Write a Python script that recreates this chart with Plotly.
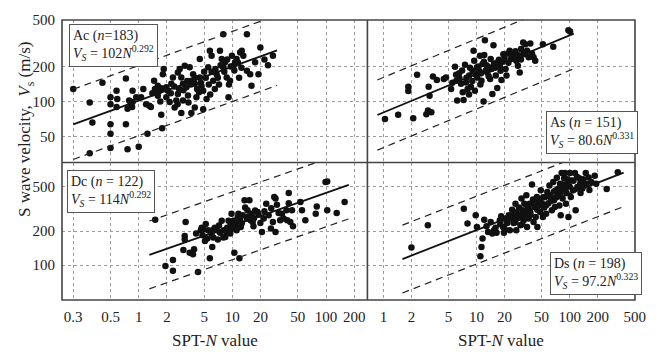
import numpy as np
import plotly.graph_objects as go

# ---- regression groups -------------------------------------------------
group_names = ["Ac", "As", "Dc", "Ds"]
group_counts = [183, 151, 122, 198]
coef_a = [102, 80.6, 114, 97.2]
coef_b = [0.292, 0.331, 0.292, 0.323]
fit_n_min = [0.2, 0.86, 1.3, 1.6]
fit_n_max = [30, 111, 175, 380]
band_factor = 2.0

# ---- measured (SPT-N, Vs) pairs -----------------------------------------
ac_n = [0.2, 0.30, 0.32, 0.30, 0.41, 0.5, 0.5, 0.5, 0.5, 0.5, 0.58, 0.59, 0.58, 0.73, 0.73,
        0.76, 0.79, 0.82, 0.76, 0.86, 0.85, 0.86, 0.94, 1.0, 1.06, 1.12, 1.24, 1.3, 1.35, 1.46,
        1.49, 1.54, 1.6, 1.67, 1.74, 1.74, 1.78, 1.81, 1.85, 1.97, 1.97, 2.05, 2.14, 2.23, 2.32,
        2.42, 2.52, 2.62, 2.62, 2.74, 2.85, 2.97, 2.85, 2.97, 3.1, 3.23, 3.36, 3.5, 3.65, 3.81,
        3.97, 3.65, 3.97, 4.13, 4.49, 4.5, 4.68, 4.88, 4.88, 5.3, 5.52, 5.75, 6.0, 6.25, 6.5,
        6.79, 7.37, 7.7, 8.0, 8.35, 8.7, 9.45, 9.1, 9.9, 10.3, 10.7, 11.1, 12.1, 12.6, 13.1,
        14.3, 15.5, 16.0, 14.3, 17.5, 8.0, 19.9, 27.1, 19.0,
        1.4, 1.6, 1.9, 2.2, 2.4, 2.7, 3.0, 3.3, 3.6, 4.0, 4.2, 4.6, 5.0, 5.2, 5.6,
        6.0, 6.6, 7.0, 7.5, 8.2, 8.8, 9.6, 10.5, 11.5, 12.5, 1.2, 1.7, 2.6, 3.4, 4.4,
        5.8, 7.2, 9.2, 11.8, 22, 24]
ac_vs = [128, 98, 66, 36, 145, 109, 95, 64, 53, 40, 124, 105, 90, 158, 64,
         39, 102, 95, 87, 99, 90, 124, 109, 41, 109, 128, 53, 92, 90, 151,
         128, 120, 137, 124, 130, 77, 59, 172, 190, 133, 109, 124, 99, 142, 161,
         89, 102, 116, 178, 190, 161, 142, 80, 102, 203, 133, 113, 197, 151, 172,
         142, 80, 89, 109, 232, 161, 137, 124, 86, 105, 197, 273, 247, 151, 128,
         172, 273, 232, 197, 217, 161, 151, 109, 247, 203, 217, 232, 264, 273, 247,
         184, 172, 137, 379, 217, 379, 291, 247, 172,
         118, 112, 128, 118, 135, 128, 125, 150, 140, 160, 128, 145, 180, 160, 140,
         180, 190, 160, 205, 180, 230, 200, 185, 215, 195, 95, 100, 95, 98, 120,
         115, 140, 140, 160, 230, 205]

as_n = [1.04, 1.44, 2.09, 2.89, 3.01, 3.27, 1.85, 1.85, 2.3, 3.06, 3.13, 3.4, 3.75, 4.45, 4.7,
        5.33, 5.87, 6.03, 6.07, 6.2, 6.55, 6.81, 7.11, 7.26, 7.52, 7.71, 8.02, 8.34, 8.7, 9.07,
        9.29, 9.44, 9.6, 10.1, 10.2, 10.6, 10.9, 11.3, 11.9, 11.6, 12.1, 12.3, 12.5, 13.1, 13.6,
        14.0, 14.2, 14.8, 15.2, 15.4, 16.1, 16.7, 17.4, 18.1, 18.5, 19.4, 20.5, 21.0, 21.7, 22.7,
        23.5, 24.6, 26.2, 26.7, 27.8, 29.1, 30.1, 31.7, 32.1, 33.4, 34.9, 36.3, 37.8, 39.4, 41.0,
        42.7, 51.6, 66.7, 97, 101,
        6.5, 7.0, 7.8, 8.5, 9.0, 9.8, 10.5, 11.2, 12.8, 13.5, 14.5, 15.8, 16.5, 17.8, 19,
        20, 22, 24, 25.5, 28.5, 30, 33, 12, 11, 8.3, 5.5]
as_vs = [71, 77, 72, 78, 84, 81, 134, 123, 170, 134, 112, 164, 153, 156, 161,
         128, 199, 170, 151, 102, 159, 142, 120, 103, 207, 146, 128, 167, 134, 184,
         273, 224, 124, 197, 161, 184, 247, 151, 100, 210, 251, 336, 184, 178, 197,
         156, 232, 116, 305, 210, 167, 131, 228, 184, 153, 255, 190, 167, 259, 273,
         232, 255, 270, 224, 203, 178, 283, 322, 255, 310, 273, 240, 315, 259, 240,
         224, 310, 295, 410, 399,
         175, 185, 160, 195, 150, 170, 200, 175, 205, 165, 190, 195, 215, 200, 220,
         235, 215, 245, 235, 250, 230, 260, 220, 140, 115, 145]

dc_n = [1.5, 1.93, 2.32, 2.32, 3.17, 3.1, 3.1, 3.0, 3.5, 3.8, 3.9, 4.1, 4.3, 4.6, 4.7,
        4.9, 4.8, 5.1, 5.2, 5.4, 5.5, 5.75, 6.0, 6.1, 6.25, 6.5, 6.8, 7.0, 7.4, 7.7,
        8.0, 8.1, 8.4, 8.7, 9.1, 9.3, 9.5, 9.8, 10.3, 10.3, 10.5, 10.7, 11.1, 11.6, 11.9,
        12.1, 12.3, 12.9, 13.5, 13.7, 14.3, 14.5, 15.2, 15.7, 16.1, 16.5, 16.8, 17.5, 18.6, 19.9,
        20.7, 21.6, 23, 24.4, 25.8, 27.1, 28, 28.9, 28.9, 29.9, 31.2, 32.4, 33.8, 35.3, 37.8,
        38.5, 40, 40, 41.6, 43.3, 44.4, 53.3, 55.4, 60.2, 77.7, 79.6, 98.8, 103, 103, 130, 158,
        6.2, 7.2, 8.8, 10.8, 12.6, 14.8, 17, 19, 22, 26, 9.6, 11.4]
dc_vs = [253, 98, 111, 89, 242, 181, 169, 136, 129, 125, 138, 191, 87, 204, 215,
         207, 184, 164, 232, 172, 204, 115, 191, 145, 176, 215, 204, 169, 194, 248,
         176, 204, 178, 197, 248, 210, 191, 286, 211, 248, 129, 221, 204, 286, 115,
         250, 218, 277, 376, 324, 259, 307, 376, 250, 286, 242, 221, 305, 296, 236,
         197, 259, 351, 277, 211, 242, 403, 390, 197, 343, 290, 250, 286, 259, 307,
         250, 436, 355, 242, 307, 221, 363, 307, 250, 286, 331, 546, 552, 307, 290, 363,
         205, 225, 215, 240, 235, 270, 260, 280, 300, 320, 230, 265]

ds_n = [2.0, 3.0, 7.3, 8.0, 9.8, 10.1, 11.0, 11.6, 11.3, 12.1, 12.8, 13.3, 14.2, 14.8, 15.4,
        16.4, 17.8, 18.4, 19.3, 19.7, 20.5, 21.4, 22.2, 22.8, 23.5, 24.1, 25, 25.5, 26.2, 26.7,
        27.3, 28.5, 29.1, 29.6, 30.4, 31.4, 32.1, 32.6, 33.4, 34.3, 34.9, 35.4, 36.3, 37.1, 37.8,
        39.4, 40.4, 41, 42, 43.2, 44.5, 45, 46.4, 48.3, 49, 50.4, 51.6, 53.3, 54.6, 55.9,
        57.6, 59, 60.7, 62.9, 64.4, 66.7, 67.9, 69.4, 71.3, 72.9, 75.6, 77.6, 79, 80.2, 82,
        84, 86, 87.3, 89.4, 91.3, 92.7, 94, 97.1, 101, 103, 105, 109, 114, 116, 121,
        127, 131, 137, 149, 150, 163, 171, 186, 193, 250, 329,
        16, 18, 21, 24, 27, 30, 33, 36, 38, 42, 45, 48, 52, 56, 60,
        63, 68, 72, 76, 80, 85, 90, 95, 100, 110, 120, 130, 140, 160, 26,
        31, 20]
ds_vs = [143, 226, 317, 234, 277, 218, 120, 172, 145, 253, 221, 197, 242, 191, 204,
         194, 250, 272, 218, 194, 259, 237, 277, 204, 259, 310, 237, 286, 351, 204,
         259, 324, 277, 226, 390, 307, 250, 351, 277, 417, 218, 317, 259, 351, 296,
         520, 383, 242, 328, 268, 403, 218, 339, 296, 461, 355, 268, 324, 403, 286,
         446, 355, 508, 403, 307, 546, 376, 328, 461, 598, 417, 339, 528, 277, 658,
         390, 478, 590, 658, 351, 437, 528, 268, 658, 403, 565, 461, 658, 307, 494,
         590, 437, 478, 658, 528, 464, 546, 620, 528, 474, 668,
         215, 230, 245, 275, 295, 265, 300, 330, 280, 360, 310, 370, 400, 340, 420,
         370, 450, 400, 480, 440, 520, 470, 580, 500, 560, 610, 530, 580, 600, 240,
         230, 210]

# ---- axis ticks ---------------------------------------------------------
left_xticks = [0.2, 0.5, 1, 2, 5, 10, 20, 50, 100, 200]
left_xtext = ["0.3", "0.5", "1", "2", "5", "10", "20", "50", "100", "200"]
right_xticks = [1, 2, 5, 10, 20, 50, 100, 200, 500]
right_xtext = ["1", "2", "5", "10", "20", "50", "100", "200", "500"]
top_yticks = [50, 100, 200, 500]
bottom_yticks = [100, 200, 500]

SERIF = "Liberation Serif, Times New Roman, serif"
INK = "#222"
FRAME = "#444"

points = [(ac_n, ac_vs), (as_n, as_vs), (dc_n, dc_vs), (ds_n, ds_vs)]
axis_ids = [("x", "y"), ("x2", "y2"), ("x3", "y3"), ("x4", "y4")]

fig = go.Figure()
for k, (xa, ya) in enumerate(axis_ids):
    n_vals, v_vals = points[k]
    fig.add_trace(go.Scatter(
        x=n_vals, y=v_vals, mode="markers", xaxis=xa, yaxis=ya,
        marker=dict(symbol="circle", size=6.5, color="#111"),
        hoverinfo="skip"))
    n_fit = np.geomspace(fit_n_min[k], fit_n_max[k], 60)
    v_fit = coef_a[k] * n_fit ** coef_b[k]
    fig.add_trace(go.Scatter(
        x=n_fit, y=v_fit, mode="lines", xaxis=xa, yaxis=ya,
        line=dict(color="#111", width=1.8), hoverinfo="skip"))
    for factor in (band_factor, 1.0 / band_factor):
        fig.add_trace(go.Scatter(
            x=n_fit, y=v_fit * factor, mode="lines", xaxis=xa, yaxis=ya,
            line=dict(color="#222", width=1.2, dash="7px,5px"), hoverinfo="skip"))

split_x = 0.533
split_y = 0.491

def axis_spec(domain, rng, ticks, text, anchor, show_labels):
    return dict(type="log", domain=domain, range=rng, anchor=anchor,
                tickvals=ticks, ticktext=text, showticklabels=show_labels,
                showline=False,
                showgrid=True, gridcolor="#9c9c9c", gridwidth=1, griddash="3px,3px",
                ticks="", zeroline=False, ticklabelstandoff=6,
                tickfont=dict(family=SERIF, size=15, color=INK))

left_rng = [-0.819, 2.442]
right_rng = [-0.172, 2.702]
top_rng = [np.log10(30), 2.7]
bottom_rng = [1.69, 2.911]
top_ytext = [str(t) for t in top_yticks]
bottom_ytext = [str(t) for t in bottom_yticks]

fig.update_layout(
    width=658, height=352,
    margin=dict(l=62, r=20, t=19, b=52),
    paper_bgcolor="white", plot_bgcolor="white",
    showlegend=False,
    xaxis=axis_spec([0, split_x], left_rng, left_xticks, left_xtext, "y", False),
    yaxis=axis_spec([split_y, 1], top_rng, top_yticks, top_ytext, "x", True),
    xaxis2=axis_spec([split_x, 1], right_rng, right_xticks, right_xtext, "y2", False),
    yaxis2=axis_spec([split_y, 1], top_rng, top_yticks, top_ytext, "x2", False),
    xaxis3=axis_spec([0, split_x], left_rng, left_xticks, left_xtext, "y3", True),
    yaxis3=axis_spec([0, split_y], bottom_rng, bottom_yticks, bottom_ytext, "x3", True),
    xaxis4=axis_spec([split_x, 1], right_rng, right_xticks, right_xtext, "y4", True),
    yaxis4=axis_spec([0, split_y], bottom_rng, bottom_yticks, bottom_ytext, "x4", False),
)

# panel frame: outer box plus the two dividers
frame_line = dict(color=FRAME, width=1.6)
fig.add_shape(type="rect", xref="paper", yref="paper", x0=0, x1=1, y0=0, y1=1,
              line=frame_line, layer="above")
fig.add_shape(type="line", xref="paper", yref="paper", x0=split_x, x1=split_x, y0=0, y1=1,
              line=frame_line, layer="above")
fig.add_shape(type="line", xref="paper", yref="paper", x0=0, x1=1, y0=split_y, y1=split_y,
              line=frame_line, layer="above")

# group label boxes (left edge, top edge in paper coordinates)
box_pos = [(0.012, 0.986), (0.845, 0.676), (0.009, 0.466), (0.851, 0.171)]
for k, (bx, by) in enumerate(box_pos):
    if k == 0:
        head = f"{group_names[k]} (<i>n</i>={group_counts[k]})"
    else:
        head = f"{group_names[k]} (<i>n</i> = {group_counts[k]})"
    eq = f"<i>V<sub>S</sub></i> = {coef_a[k]:g}<i>N</i><sup>{coef_b[k]:.3f}</sup>"
    fig.add_annotation(
        xref="paper", yref="paper", x=bx, y=by, xanchor="left", yanchor="top",
        text=head + "<br>" + eq, align="left", showarrow=False,
        font=dict(family=SERIF, size=14, color=INK),
        bgcolor="white", bordercolor="#555", borderwidth=1, borderpad=3)

# axis titles
for cx in (split_x / 2, (split_x + 1) / 2):
    fig.add_annotation(
        xref="paper", yref="paper", x=cx, y=-0.146, xanchor="center", yanchor="middle",
        text="SPT-<i>N</i> value", showarrow=False,
        font=dict(family=SERIF, size=17, color=INK))

fig.add_annotation(
    xref="paper", yref="paper", x=-0.062, y=0.609, xanchor="center", yanchor="middle",
    text="S wave velocity,  <i>V</i><sub>s</sub> (m/s)", textangle=-90, showarrow=False,
    font=dict(family=SERIF, size=17, color=INK))

fig.write_html("out.html")
